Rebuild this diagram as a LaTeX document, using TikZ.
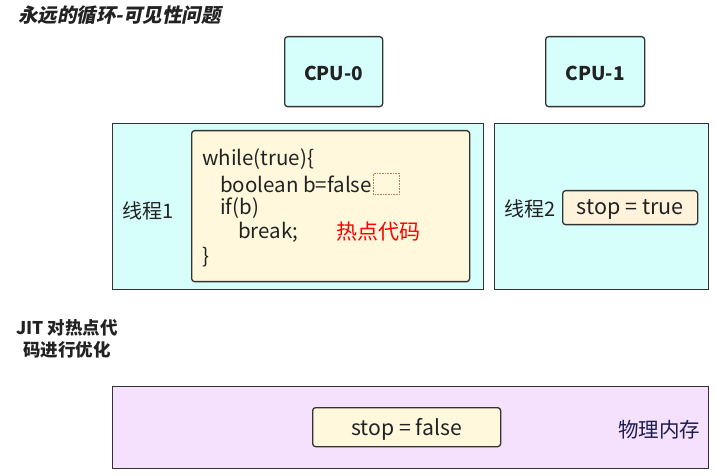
\documentclass[tikz,border=0pt]{standalone}
\usepackage{fontspec}
\setmainfont{Noto Sans CJK SC}
\newfontfamily\titlefont{Noto Sans CJK SC}[FakeSlant=0.2]
\definecolor{cyanfill}{HTML}{D6FFFC}
\definecolor{yelfill}{HTML}{FFF8DC}
\definecolor{orgfill}{HTML}{FFF3DC}
\definecolor{purfill}{HTML}{F5E1FE}
\definecolor{edge}{HTML}{333333}
\definecolor{txt}{HTML}{222222}
\definecolor{dotc}{HTML}{B08060}
\begin{document}
\begin{tikzpicture}[x=1pt,y=-1pt,
  box/.style={draw=edge,line width=1.3pt,inner sep=0pt,anchor=north west},
  rbox/.style={box,rounded corners=3pt},
  lbl/.style={inner sep=0pt,text=txt,font=\fontsize{20}{24}\selectfont},
  code/.style={inner sep=0pt,anchor=west,text=txt,font=\fontsize{20.5}{24}\selectfont}]
\useasboundingbox[fill=white] (0,0) rectangle (716,476);
\node[inner sep=0pt,anchor=west,text=txt,font=\titlefont\bfseries\fontsize{19.5}{22}\selectfont] (title) at (18,15) {永远的循环-可见性问题};
% CPUs
\node[rbox,fill=cyanfill,minimum width=98pt,minimum height=70pt] (cpu0) at (284,36) {};
\node[lbl,yshift=-1.5pt,font=\bfseries\fontsize{19}{22}\selectfont] at (cpu0.center) {CPU-0};
\node[rbox,fill=cyanfill,minimum width=99pt,minimum height=70pt] (cpu1) at (545,36) {};
\node[lbl,yshift=-1.5pt,font=\bfseries\fontsize{19}{22}\selectfont] at (cpu1.center) {CPU-1};
% thread 1
\node[box,fill=cyanfill,minimum width=371pt,minimum height=166pt] (t1) at (112,123) {};
\node[lbl,anchor=west] (t1l) at (122,211) {线程1};
\node[rbox,fill=yelfill,minimum width=278pt,minimum height=151pt] (codebox) at (191,130) {};
\node[code] (c1) at (202,159) {while(true)\{};
\node[code] (c2) at (220,184) {boolean b=false};
\node[code] (c3) at (220,208) {if(b)};
\node[code] (c4) at (238,232) {break;};
\node[code] (c5) at (202,257) {\}};
\node[draw=dotc,densely dotted,line width=0.6pt,inner sep=0pt,minimum width=26pt,minimum height=21pt,anchor=north west] (sel) at (373,173) {};
\node[inner sep=0pt,anchor=west,text=red,font=\fontsize{21}{24}\selectfont] (hot) at (336,232) {热点代码};
% thread 2
\node[box,fill=cyanfill,minimum width=214pt,minimum height=166pt] (t2) at (494,123) {};
\node[lbl,anchor=west] (t2l) at (504,209) {线程2};
\node[rbox,fill=orgfill,minimum width=135pt,minimum height=34pt] (st) at (562,190) {};
\node[lbl,yshift=-2pt,font=\fontsize{21.5}{24}\selectfont] at (st.center) {stop = true};
% JIT note
\node[inner sep=0pt,align=center,text=txt,font=\bfseries\fontsize{17.5}{22}\selectfont] (jit) at (67,339) {JIT 对热点代\\码进行优化};
% memory
\node[box,fill=purfill,minimum width=596pt,minimum height=82pt] (mem) at (112,386) {};
\node[rbox,fill=yelfill,minimum width=188pt,minimum height=39pt] (sf) at (312,407) {};
\node[lbl,yshift=-2pt,font=\fontsize{21.2}{24}\selectfont] at (sf.center) {stop = false};
\node[lbl,anchor=west,text=txt!80!blue,font=\fontsize{20.5}{24}\selectfont] (meml) at (618,430) {物理内存};
\end{tikzpicture}
\end{document}
